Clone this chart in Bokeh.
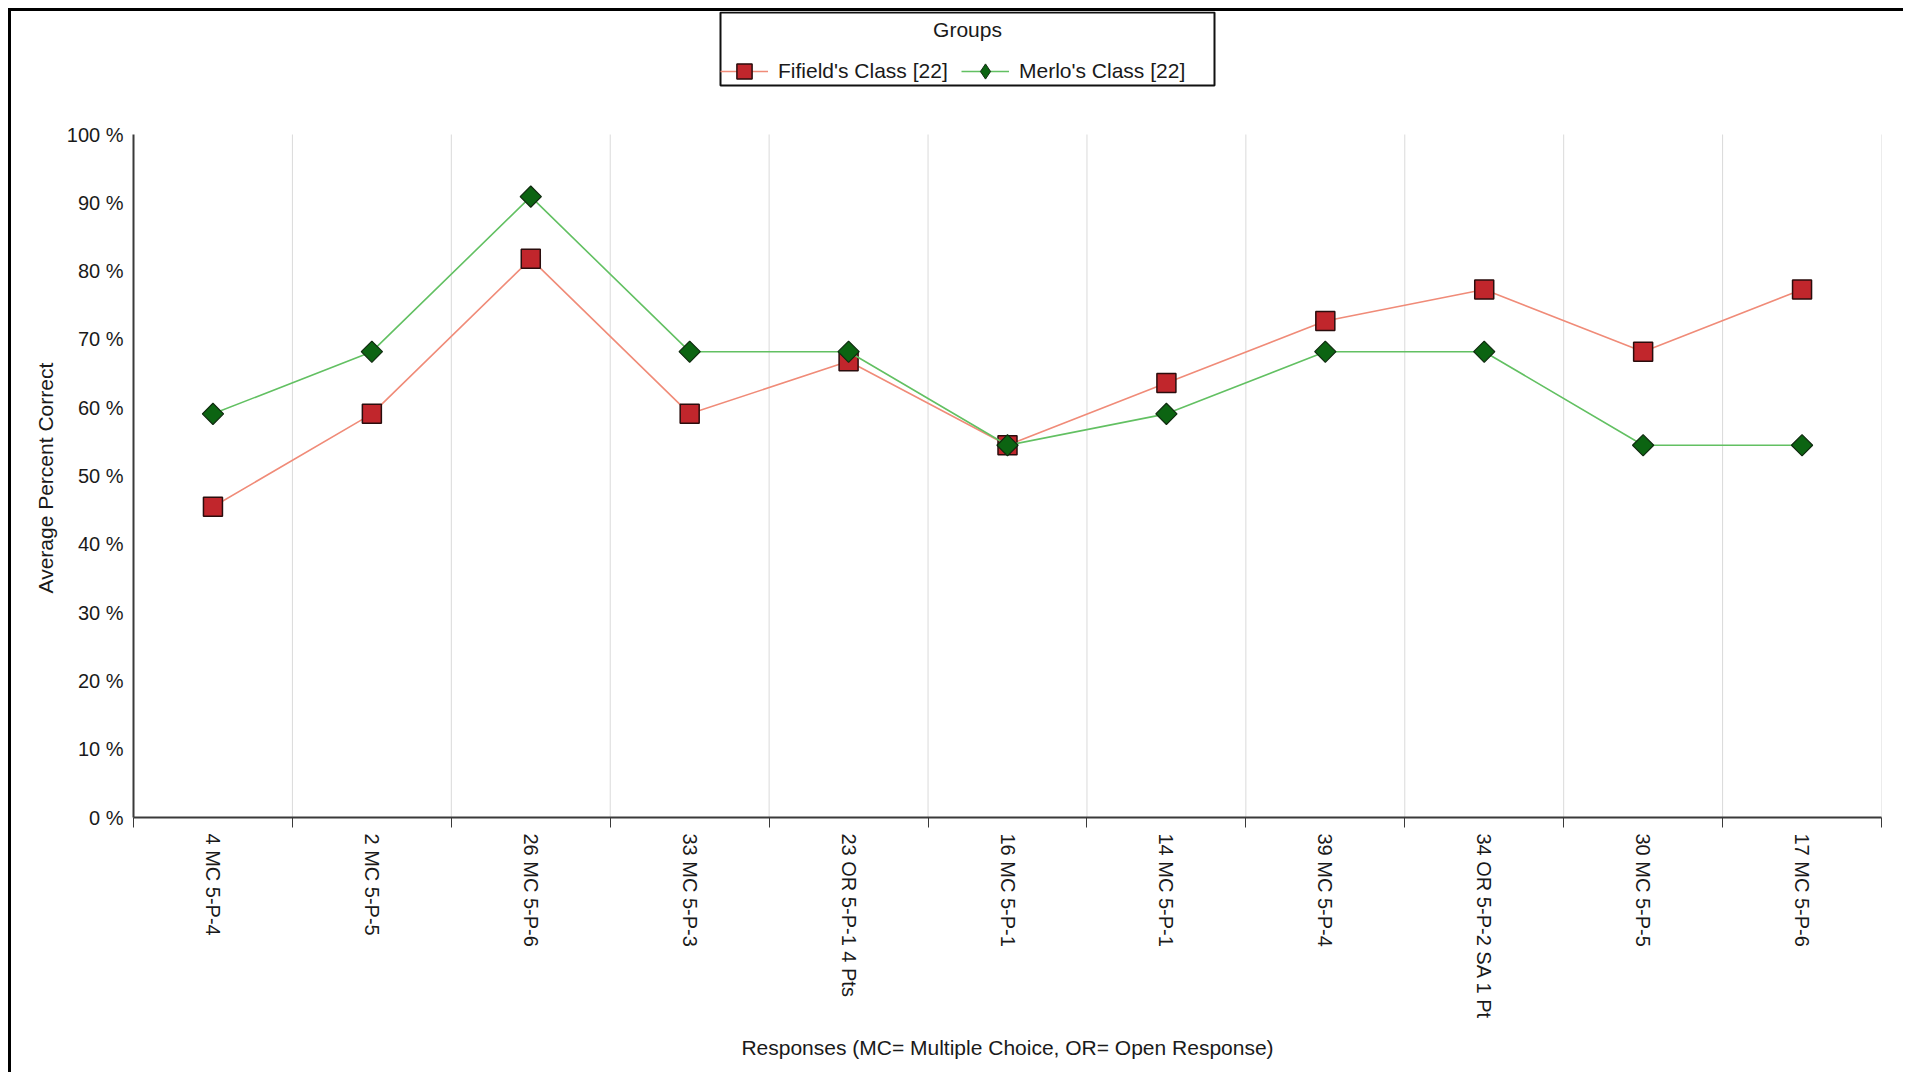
import math
from bokeh.plotting import figure
from bokeh.models import FixedTicker, Legend, LegendItem, Range1d, Label, BoxAnnotation, Title
from bokeh.embed import file_html
from bokeh.resources import INLINE

# ---- data ----
categories = ["4 MC 5-P-4", "2 MC 5-P-5", "26 MC 5-P-6", "33 MC 5-P-3",
              "23 OR 5-P-1 4 Pts", "16 MC 5-P-1", "14 MC 5-P-1", "39 MC 5-P-4",
              "34 OR 5-P-2 SA 1 Pt", "30 MC 5-P-5", "17 MC 5-P-6"]
fifield = [45.5, 59.1, 81.8, 59.1, 66.8, 54.5, 63.6, 72.7, 77.3, 68.2, 77.3]
merlo = [59.1, 68.2, 90.9, 68.2, 68.2, 54.5, 59.1, 68.2, 68.2, 54.5, 54.5]
y_ticks = [0, 10, 20, 30, 40, 50, 60, 70, 80, 90, 100]
y_tick_labels = ["0 %", "10 %", "20 %", "30 %", "40 %", "50 %", "60 %", "70 %", "80 %", "90 %", "100 %"]
series_names = ["Fifield's Class [22]", "Merlo's Class [22]"]
legend_title = "Groups"
x_title = "Responses (MC= Multiple Choice, OR= Open Response)"
y_title = "Average Percent Correct"

n = len(categories)
xc = [i + 0.5 for i in range(n)]          # category centres
bounds = list(range(n + 1))               # category boundaries

FONT = "Liberation Sans"
TXT = "#1a1a1a"

# layout (pixels)
W, H = 1895, 1064
MB_L, MB_R, MB_T, MB_B = 122, 25, 0, 258
frame_h = H - MB_T - MB_B
axis_h = 683                               # pixel height of the 0..100 % scale
y_end = y_ticks[-1] * frame_h / axis_h     # room above 100 % for the legend

p = figure(width=W, height=H, output_backend="svg", toolbar_location=None,
           x_range=Range1d(0, n), y_range=Range1d(y_ticks[0], y_end),
           min_border_left=MB_L, min_border_right=MB_R, min_border_top=MB_T,
           min_border_bottom=MB_B)
p.styles = {"border-top": "3px solid #000", "border-left": "3px solid #000",
            "margin-left": "8px", "margin-top": "8px"}
p.outline_line_color = None
p.background_fill_color = "white"
p.border_fill_color = "white"

# y axis
ya = p.yaxis[0]
ya.bounds = (y_ticks[0], y_ticks[-1])
ya.ticker = FixedTicker(ticks=y_ticks)
ya.major_label_overrides = {t: l for t, l in zip(y_ticks, y_tick_labels)}
ya.major_tick_out = 0
ya.major_tick_in = 0
ya.minor_tick_out = 0
ya.minor_tick_in = 0
ya.axis_line_color = "#3a3a3a"
ya.axis_line_width = 2
ya.major_label_text_font = FONT
ya.major_label_text_font_size = "20px"
ya.major_label_text_color = TXT
ya.major_label_standoff = 10

# y title (left-side title, placed along the middle of the 0..100 % scale)
p.add_layout(Title(text=y_title, align="left", offset=224, standoff=14,
                   text_font=FONT, text_font_size="21px", text_font_style="normal",
                   text_color=TXT), "left")

# x axis
xa = p.xaxis[0]
xa.ticker = FixedTicker(ticks=xc, minor_ticks=bounds)
xa.major_label_overrides = {x: c for x, c in zip(xc, categories)}
xa.major_label_orientation = -math.pi / 2
xa.major_tick_out = 0
xa.major_tick_in = 0
xa.minor_tick_out = 10
xa.minor_tick_in = 0
xa.minor_tick_line_color = "#3a3a3a"
xa.minor_tick_line_width = 1
xa.axis_line_color = "#3a3a3a"
xa.axis_line_width = 2
xa.major_label_text_font = FONT
xa.major_label_text_font_size = "20px"
xa.major_label_text_color = TXT
xa.major_label_standoff = 6
xa.axis_label = x_title
xa.axis_label_text_font = FONT
xa.axis_label_text_font_size = "21px"
xa.axis_label_text_font_style = "normal"
xa.axis_label_text_color = TXT
xa.axis_label_standoff = 14

# grid: vertical lines at category boundaries, up to 100 %
p.ygrid.grid_line_color = None
p.xgrid.grid_line_color = None
p.segment(x0=bounds[1:], y0=[y_ticks[0]] * n, x1=bounds[1:], y1=[y_ticks[-1]] * n,
          line_color="#dadada", line_width=1)

# series
rl = p.line(xc, fifield, line_color="#f08b78", line_width=1.6)
rs = p.scatter(xc, fifield, marker="square", size=19, fill_color="#c1262c",
               line_color="#2a0d0d", line_width=1.5)
gl = p.line(xc, merlo, line_color="#62c062", line_width=1.6)
# diamond swatch for the legend (drawn beneath, fully covered by the markers below)
gs_key = p.scatter(xc, merlo, marker="diamond", size=14,
                   fill_color="#0c6412", line_color="#0f2a0f", line_width=1.0)
gs = p.scatter(xc, merlo, marker="square", angle=math.pi / 4, size=15,
               fill_color="#0c6412", line_color="#0f2a0f", line_width=1.2)

# legend frame + title
p.add_layout(BoxAnnotation(left=587, right=1081, bottom=732, top=805,
                           left_units="screen", right_units="screen",
                           bottom_units="screen", top_units="screen",
                           fill_alpha=0, line_color="#111111", line_alpha=1.0,
                           line_width=2))
p.add_layout(Label(x=834, y=788, x_units="screen", y_units="screen", text=legend_title,
                   text_font=FONT, text_font_size="21px", text_color=TXT,
                   text_align="center", text_baseline="middle", level="overlay"))

legend = Legend(items=[LegendItem(label=series_names[0], renderers=[rl, rs]),
                       LegendItem(label=series_names[1], renderers=[gl, gs_key])],
                orientation="horizontal", location=(587, 727),
                label_text_font=FONT, label_text_font_size="21px",
                label_text_color=TXT, label_standoff=10, label_width=183,
                glyph_width=48, glyph_height=38, spacing=0, padding=3, margin=0,
                border_line_color=None, background_fill_alpha=0.0)
p.add_layout(legend)

open("out.html", "w").write(file_html(p, INLINE))
